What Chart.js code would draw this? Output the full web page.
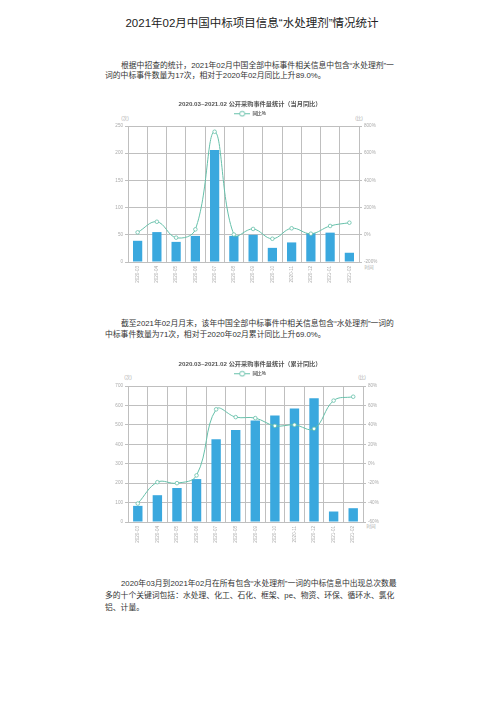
<!DOCTYPE html>
<html><head><meta charset="utf-8">
<script src="https://cdn.jsdelivr.net/npm/chart.js@4.4.0/dist/chart.umd.min.js"></script>
<style>
body{margin:0;background:#fff;}
#page{position:relative;width:504px;height:713px;overflow:hidden;background:#fff;font-family:"Liberation Sans","Noto Sans CJK SC",sans-serif;color:#333;}
.t{position:absolute;white-space:nowrap;line-height:1;}
.title{font-size:11.5px;color:#222;left:0;width:504px;text-align:center;top:18px;}
.p{font-size:7.8px;color:#333;}
.u{font-size:4.6px;color:#aaa;transform:translate(-50%,-50%);}
canvas{position:absolute;}
</style></head>
<body><div id="page">
<div class="t title">2021年02月中国中标项目信息“水处理剂”情况统计</div>
<div class="t p" style="left:121px;top:62px;">根据中招查的统计，2021年02月中国全部中标事件相关信息中包含“水处理剂”一</div>
<div class="t p" style="left:105px;top:72px;">词的中标事件数量为17次，相对于2020年02月同比上升89.0%。</div>

<div class="t p" style="left:121px;top:320px;">截至2021年02月月末，该年中国全部中标事件中相关信息包含“水处理剂”一词的</div>
<div class="t p" style="left:105px;top:331px;">中标事件数量为71次，相对于2020年02月累计同比上升69.0%。</div>

<div class="t p" style="left:121px;top:580px;">2020年03月到2021年02月在所有包含“水处理剂”一词的中标信息中出现总次数最</div>
<div class="t p" style="left:105px;top:592px;">多的十个关键词包括：水处理、化工、石化、框架、pe、物资、环保、循环水、氯化</div>
<div class="t p" style="left:105px;top:604px;">铝、计量。</div>

<div class="t u" style="left:125px;top:119px;">(次)</div>
<div class="t u" style="left:359px;top:119px;">(比)</div>
<div class="t u" style="left:369px;top:268px;">时间</div>
<div class="t u" style="left:128px;top:378px;">(次)</div>
<div class="t u" style="left:362px;top:378px;">(比)</div>
<div class="t u" style="left:371px;top:527px;">时间</div>

<canvas id="c1" width="320" height="200" style="left:90px;top:96px;width:320px;height:200px;"></canvas>
<canvas id="c2" width="320" height="200" style="left:90px;top:356px;width:320px;height:200px;"></canvas>
</div>
<script>
// ---- data ----
const months = ['2020-03','2020-04','2020-05','2020-06','2020-07','2020-08','2020-09','2020-10','2020-11','2020-12','2021-01','2021-02'];
const monthlyCounts = [39, 55, 37, 48, 206, 48, 50, 26, 36, 53, 54, 17];
const monthlyYoY = [18, 96, -21, 40, 758, 2, 43, -29, 48, 8, 65, 89];
const cumulativeCounts = [83, 138, 175, 221, 426, 474, 522, 548, 584, 637, 54, 71];
const cumulativeYoY = [-41, -19, -20, -12, 56, 48, 47, 39, 40, 36, 65, 69];
const countTicks1 = [0, 50, 100, 150, 200, 250];
const pctTicks1 = [-200, 0, 200, 400, 600, 800];
const countTicks2 = [0, 100, 200, 300, 400, 500, 600, 700];
const pctTicks2 = [-60, -40, -20, 0, 20, 40, 60, 80];
const chartTitle1 = '2020.03~2021.02 公开采购事件量统计（当月同比）';
const chartTitle2 = '2020.03~2021.02 公开采购事件量统计（累计同比）';
const lineLabel = '同比%';

const BAR = '#3aa8de';
const LINE = '#66c0aa';
const GRID = '#bfbfbf';
const FONT = '"Liberation Sans","Noto Sans CJK SC",sans-serif';

function legendIcon(){
  const c = document.createElement('canvas');
  c.width = 16; c.height = 7;
  const x = c.getContext('2d');
  x.strokeStyle = LINE; x.lineWidth = 1;
  x.beginPath(); x.moveTo(0,3.5); x.lineTo(16,3.5); x.stroke();
  x.beginPath(); x.arc(8,3.5,2.5,0,Math.PI*2); x.fillStyle='#fff'; x.fill(); x.stroke();
  return c;
}

function makeChart(id, title, counts, yoy, lt, rt, rightW){
  const icon = legendIcon();
  return new Chart(document.getElementById(id), {
    data: {
      labels: months,
      datasets: [
        { type:'line', label: lineLabel, data: yoy, yAxisID:'y1', order:0,
          borderColor: LINE, borderWidth: 1, tension: 0.4, fill:false,
          pointRadius: 1.8, pointBackgroundColor:'#fff', pointBorderColor: LINE, pointBorderWidth: 0.8 },
        { type:'bar', label: '次数', data: counts, yAxisID:'y', order:1,
          backgroundColor: BAR, barPercentage: 0.6, categoryPercentage: 0.8 }
      ]
    },
    options: {
      responsive:false, animation:false, devicePixelRatio:1,
      layout:{ padding:{ top:0, left:0, right:0, bottom:0 } },
      plugins:{
        tooltip:{enabled:false},
        title:{ display:true, text:title, color:'#555', font:{family:FONT, size:6.2, weight:'bold'}, padding:{top:5, bottom:2} },
        legend:{ display:true, position:'top',
          labels:{ usePointStyle:true, pointStyleWidth:16, boxHeight:5, padding:1, color:'#9a9a9a', font:{family:FONT, size:4.6},
            generateLabels: () => [{ text: lineLabel, pointStyle: icon, fillStyle:'#fff', strokeStyle: LINE, lineWidth:0, hidden:false, datasetIndex:0 }] } }
      },
      scales:{
        x:{ offset:true,
          grid:{ offset:true, color:GRID, lineWidth:1, drawTicks:false },
          border:{ display:true, color:GRID },
          ticks:{ autoSkip:false, minRotation:90, maxRotation:90, color:'#aaa', font:{family:FONT, size:4.6}, padding:4 },
          afterFit: s => { s.height = 34; } },
        y:{ position:'left', min: lt[0], max: lt[lt.length-1],
          afterBuildTicks: s => { s.ticks = lt.map(v => ({value:v})); },
          grid:{ color:GRID, lineWidth:1, tickLength:3 },
          border:{ display:true, color:GRID },
          ticks:{ color:'#aaa', font:{family:FONT, size:4.6}, padding:2 },
          afterFit: s => { s.width = 38; } },
        y1:{ position:'right', min: rt[0], max: rt[rt.length-1],
          afterBuildTicks: s => { s.ticks = rt.map(v => ({value:v})); },
          grid:{ drawOnChartArea:false, color:GRID, tickLength:3 },
          border:{ display:true, color:GRID },
          ticks:{ color:'#aaa', font:{family:FONT, size:4.6}, padding:2, callback: v => v + '%' },
          afterFit: s => { s.width = rightW; } }
      }
    }
  });
}

makeChart('c1', chartTitle1, monthlyCounts, monthlyYoY, countTicks1, pctTicks1, 51);
makeChart('c2', chartTitle2, cumulativeCounts, cumulativeYoY, countTicks2, pctTicks2, 47);
</script>
</body></html>
